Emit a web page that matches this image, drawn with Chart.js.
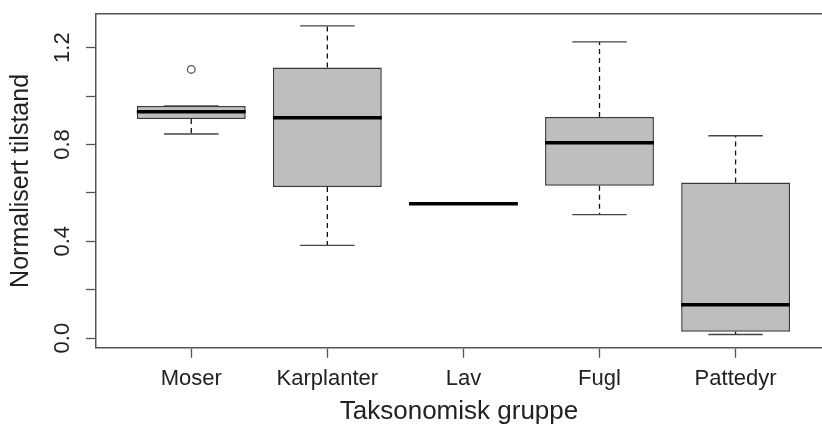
<!DOCTYPE html>
<html>
<head>
<meta charset="utf-8">
<script src="https://cdn.jsdelivr.net/npm/chart.js@4"></script>
<style>
  html, body { margin: 0; padding: 0; background: #fff; }
  #wrap { width: 822px; height: 434px; }
</style>
</head>
<body>
<div id="wrap"><canvas id="box-chart"></canvas></div>
<script>
// Boxplot of normalised condition per taxonomic group (R-style)
const categories = ['Moser', 'Karplanter', 'Lav', 'Fugl', 'Pattedyr']
const lowerWhisker = [0.843, 0.383, 0.555, 0.510, 0.015]
const q1           = [0.905, 0.624, 0.555, 0.629, 0.026]
const medians      = [0.935, 0.910, 0.555, 0.807, 0.138]
const q3           = [0.959, 1.118, 0.555, 0.913, 0.643]
const upperWhisker = [0.959, 1.290, 0.555, 1.224, 0.836]
const outlierGroup = [1]        // 1-based group index
const outlierValue = [1.110]
const yTickValues = [0.0, 0.2, 0.4, 0.6, 0.8, 1.0, 1.2]
const yTickLabels = ['0.0', '', '0.4', '', '0.8', '', '1.2']

const BOX_HALF = 0.4
const CAP_HALF = 0.2
const FONT = "'Liberation Sans', Arial, sans-serif"
const AXIS = '#555'
const TEXT = '#222'

const pos = categories.map((c, i) => i + 1)

const boxes = pos.map((x, i) => ({ x, y: [q1[i], q3[i]] }))
const medianPts = pos.flatMap((x, i) => [
  { x: x - BOX_HALF, y: medians[i] }, { x: x + BOX_HALF, y: medians[i] }, { x, y: null },
])
const whiskerPts = pos.flatMap((x, i) => [
  { x, y: q3[i] }, { x, y: upperWhisker[i] }, { x, y: null },
  { x, y: q1[i] }, { x, y: lowerWhisker[i] }, { x, y: null },
])
const capPts = pos.flatMap((x, i) => [
  { x: x - CAP_HALF, y: upperWhisker[i] }, { x: x + CAP_HALF, y: upperWhisker[i] }, { x, y: null },
  { x: x - CAP_HALF, y: lowerWhisker[i] }, { x: x + CAP_HALF, y: lowerWhisker[i] }, { x, y: null },
])
const outlierPts = outlierGroup.map((g, i) => ({ x: g, y: outlierValue[i] }))

// drop the label overhang padding so the plot frame sits where R put it
const noPad = (scale) => {
  scale.paddingTop = 0
  scale.paddingBottom = 0
  scale.paddingLeft = 0
  scale.paddingRight = 0
}

new Chart(document.getElementById('box-chart'), {
  data: {
    datasets: [
      {
        type: 'bar',
        data: boxes,
        backgroundColor: '#bebebe',
        borderColor: '#3a3a3a',
        borderWidth: 1.5,
        borderSkipped: false,
        barPercentage: 0.8,
        categoryPercentage: 1.0,
        order: 5,
      },
      {
        type: 'line',
        data: whiskerPts,
        borderColor: '#111',
        borderWidth: 1.3,
        borderDash: [5, 4],
        pointRadius: 0,
        spanGaps: false,
        order: 4,
      },
      {
        type: 'line',
        data: capPts,
        borderColor: '#444',
        borderWidth: 1.4,
        pointRadius: 0,
        spanGaps: false,
        order: 3,
      },
      {
        type: 'line',
        data: medianPts,
        borderColor: '#000',
        borderWidth: 3.5,
        borderCapStyle: 'butt',
        pointRadius: 0,
        spanGaps: false,
        order: 1,
      },
      {
        type: 'line',
        data: outlierPts,
        showLine: false,
        pointRadius: 3.8,
        pointBackgroundColor: 'rgba(255,255,255,0)',
        pointBorderColor: '#555',
        pointBorderWidth: 1.3,
        order: 0,
      },
    ],
  },
  options: {
    responsive: true,
    maintainAspectRatio: false,
    animation: false,
    events: [],
    layout: { autoPadding: false, padding: { top: 14, right: 0, bottom: 0, left: 0 } },
    plugins: {
      legend: { display: false },
      tooltip: { enabled: false },
    },
    scales: {
      x: {
        type: 'linear',
        position: 'bottom',
        min: 0.3,
        max: 5.635,
        offset: false,
        afterBuildTicks: (scale) => { scale.ticks = pos.map(v => ({ value: v })) },
        afterFit: noPad,
        grid: { drawOnChartArea: false, drawTicks: true, tickLength: 10, tickColor: AXIS, tickWidth: 1.3, offset: false },
        border: { display: true, color: AXIS, width: 1.5 },
        ticks: {
          autoSkip: false,
          maxRotation: 0,
          padding: 8,
          color: TEXT,
          font: { family: FONT, size: 22 },
          callback: (v, i) => categories[i],
        },
        title: {
          display: true,
          text: 'Taksonomisk gruppe',
          color: TEXT,
          font: { family: FONT, size: 26, lineHeight: 0.8 },
          padding: { top: 1, bottom: 12 },
        },
      },
      x2: {
        type: 'linear',
        position: 'top',
        display: true,
        afterFit: noPad,
        ticks: { display: false },
        grid: { drawOnChartArea: false, drawTicks: false },
        border: { display: true, color: AXIS, width: 1.5 },
      },
      y: {
        type: 'linear',
        position: 'left',
        min: -0.040,
        max: 1.339,
        afterBuildTicks: (scale) => { scale.ticks = yTickValues.map(v => ({ value: v })) },
        afterFit: noPad,
        grid: { drawOnChartArea: false, drawTicks: true, tickLength: 10, tickColor: AXIS, tickWidth: 1.3 },
        border: { display: true, color: AXIS, width: 1.5 },
        ticks: {
          autoSkip: false,
          minRotation: 90,
          maxRotation: 90,
          crossAlign: 'center',
          padding: 8,
          color: TEXT,
          font: { family: FONT, size: 22 },
          callback: (v, i) => yTickLabels[i],
        },
        title: {
          display: true,
          text: 'Normalisert tilstand',
          color: TEXT,
          font: { family: FONT, size: 25 },
          padding: { top: 6, bottom: 7.6 },
        },
      },
    },
  },
})
</script>
</body>
</html>
